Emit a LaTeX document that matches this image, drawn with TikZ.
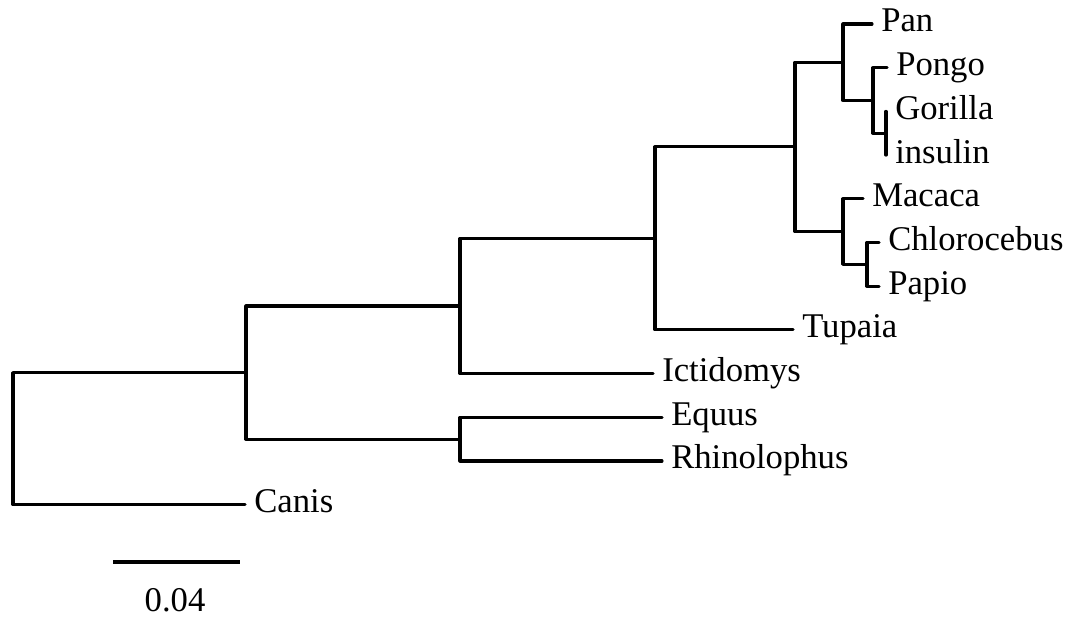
\documentclass[tikz,border=0pt]{standalone}
\usepackage{fontspec}
\setmainfont{Liberation Serif}
\begin{document}
\begin{tikzpicture}[x=0.75pt,y=-0.75pt,
  branch/.style={line width=2.3pt,line join=round,line cap=round},
  taxon/.style={anchor=base west,inner sep=0pt,font=\fontsize{26}{31}\selectfont}]
\useasboundingbox (0,0) rectangle (1072,623);
% leaves
\coordinate (Pan) at (872,24);
\coordinate (Pongo) at (887,67.7);
\coordinate (Gorilla) at (886,111.4);
\coordinate (insulin) at (886,155.1);
\coordinate (Macaca) at (863,198.8);
\coordinate (Chlorocebus) at (879,242.5);
\coordinate (Papio) at (879,286.2);
\coordinate (Tupaia) at (793,329.9);
\coordinate (Ictidomys) at (653,373.6);
\coordinate (Equus) at (662,417.3);
\coordinate (Rhinolophus) at (662,461);
\coordinate (Canis) at (245,504.7);
% internal nodes
\coordinate (G) at (886,133.2);
\coordinate (F) at (873,100.5);
\coordinate (E) at (843,62.2);
\coordinate (I) at (867,264.4);
\coordinate (H) at (843,231.6);
\coordinate (D) at (795,146.9);
\coordinate (C) at (655,238.4);
\coordinate (B) at (460,306);
\coordinate (ER) at (460,439.1);
\coordinate (A) at (246,372.6);
\coordinate (R) at (13,438.6);
% branches
\draw[branch] (Gorilla) -- (insulin);
\draw[branch] (Pongo) -| (F) |- (G);
\draw[branch] (Pan) -| (E) |- (F);
\draw[branch] (Chlorocebus) -| (I) |- (Papio);
\draw[branch] (Macaca) -| (H) |- (I);
\draw[branch] (E) -| (D) |- (H);
\draw[branch] (D) -| (C) |- (Tupaia);
\draw[branch] (C) -| (B) |- (Ictidomys);
\draw[branch] (Equus) -| (ER) |- (Rhinolophus);
\draw[branch] (B) -| (A) |- (ER);
\draw[branch] (A) -| (R) |- (Canis);
% labels
\foreach \n in {Pan,Pongo,Gorilla,insulin,Macaca,Chlorocebus,Papio,Tupaia,Ictidomys,Equus,Rhinolophus,Canis}
  \node[taxon] (l\n) at ([shift={(9,8)}]\n) {\n};
% scale bar
\coordinate (s1) at (113,562);
\coordinate (s2) at (240,562);
\draw[branch,line cap=butt] (s1) -- (s2);
\node[font=\fontsize{26}{31}\selectfont,anchor=base,inner sep=0pt] (scale) at (175,612) {0.04};
\end{tikzpicture}
\end{document}
